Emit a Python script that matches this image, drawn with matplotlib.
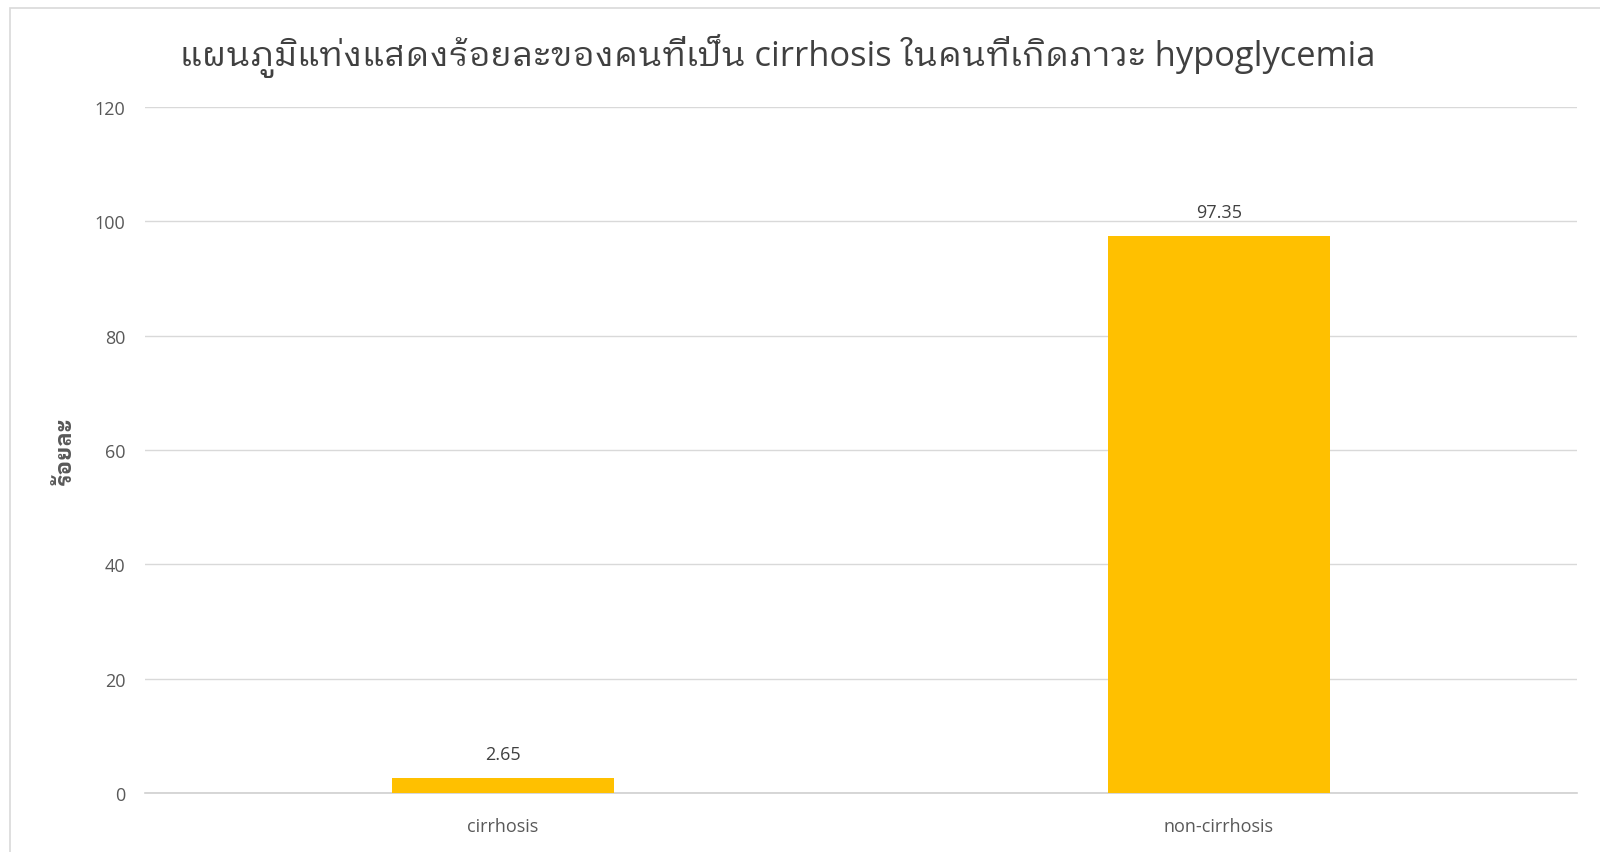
import matplotlib
matplotlib.use('Agg')
import matplotlib.pyplot as plt
from matplotlib.patches import Rectangle

categories = ['cirrhosis', 'non-cirrhosis']
percent = [2.65, 97.35]
yticks = [0, 20, 40, 60, 80, 100, 120]

title = 'แผนภูมิแท่งแสดงร้อยละของคนที่เป็น cirrhosis ในคนที่เกิดภาวะ hypoglycemia'
ylabel = 'ร้อยละ'

# Open Sans for latin, Thai looped font for the Thai glyphs
fonts = ['Open Sans', 'IBM Plex Sans Thai Looped', 'DejaVu Sans']
plt.rcParams['font.family'] = fonts

grey = '#595959'
bar_color = '#FFC000'

fig = plt.figure(figsize=(16, 8.53), dpi=100)
ax = fig.add_axes([0.0906, 0.0692, 0.895, 0.8042])

x = list(range(len(categories)))
bars = ax.bar(x, percent, width=0.31, color=bar_color, zorder=3)

for b, v in zip(bars, percent):
    ax.annotate(f'{v:.2f}', (b.get_x() + b.get_width() / 2, v),
                xytext=(0, 11), textcoords='offset points',
                ha='center', va='bottom', fontsize=13, color='#404040')

ax.set_xlim(-0.5, len(categories) - 0.5)
ax.set_ylim(0, 120)
ax.set_yticks(yticks)
ax.set_xticks(x)
ax.set_xticklabels(categories)
ax.tick_params(axis='both', length=0, labelsize=13, colors=grey)
ax.tick_params(axis='y', pad=14)
ax.tick_params(axis='x', pad=17)

ax.grid(axis='y', color='#d9d9d9', linewidth=1, zorder=0)
for side in ['top', 'right', 'left']:
    ax.spines[side].set_visible(False)
ax.spines['bottom'].set_color('#d0d0d0')
ax.spines['bottom'].set_linewidth(1.2)

ax.set_ylabel(ylabel, fontsize=16, fontweight='bold', color=grey)
ax.yaxis.set_label_coords(-0.048, 0.5)

fig.text(0.486, 0.934, title, ha='center', va='center', fontsize=24.8, color='#404040')

# thin frame around the chart area
fig.patches.append(Rectangle((0.006, -0.01), 1.0, 1.0, transform=fig.transFigure,
                             fill=False, edgecolor='#d9d9d9', linewidth=1.2))

fig.savefig('out.png')
